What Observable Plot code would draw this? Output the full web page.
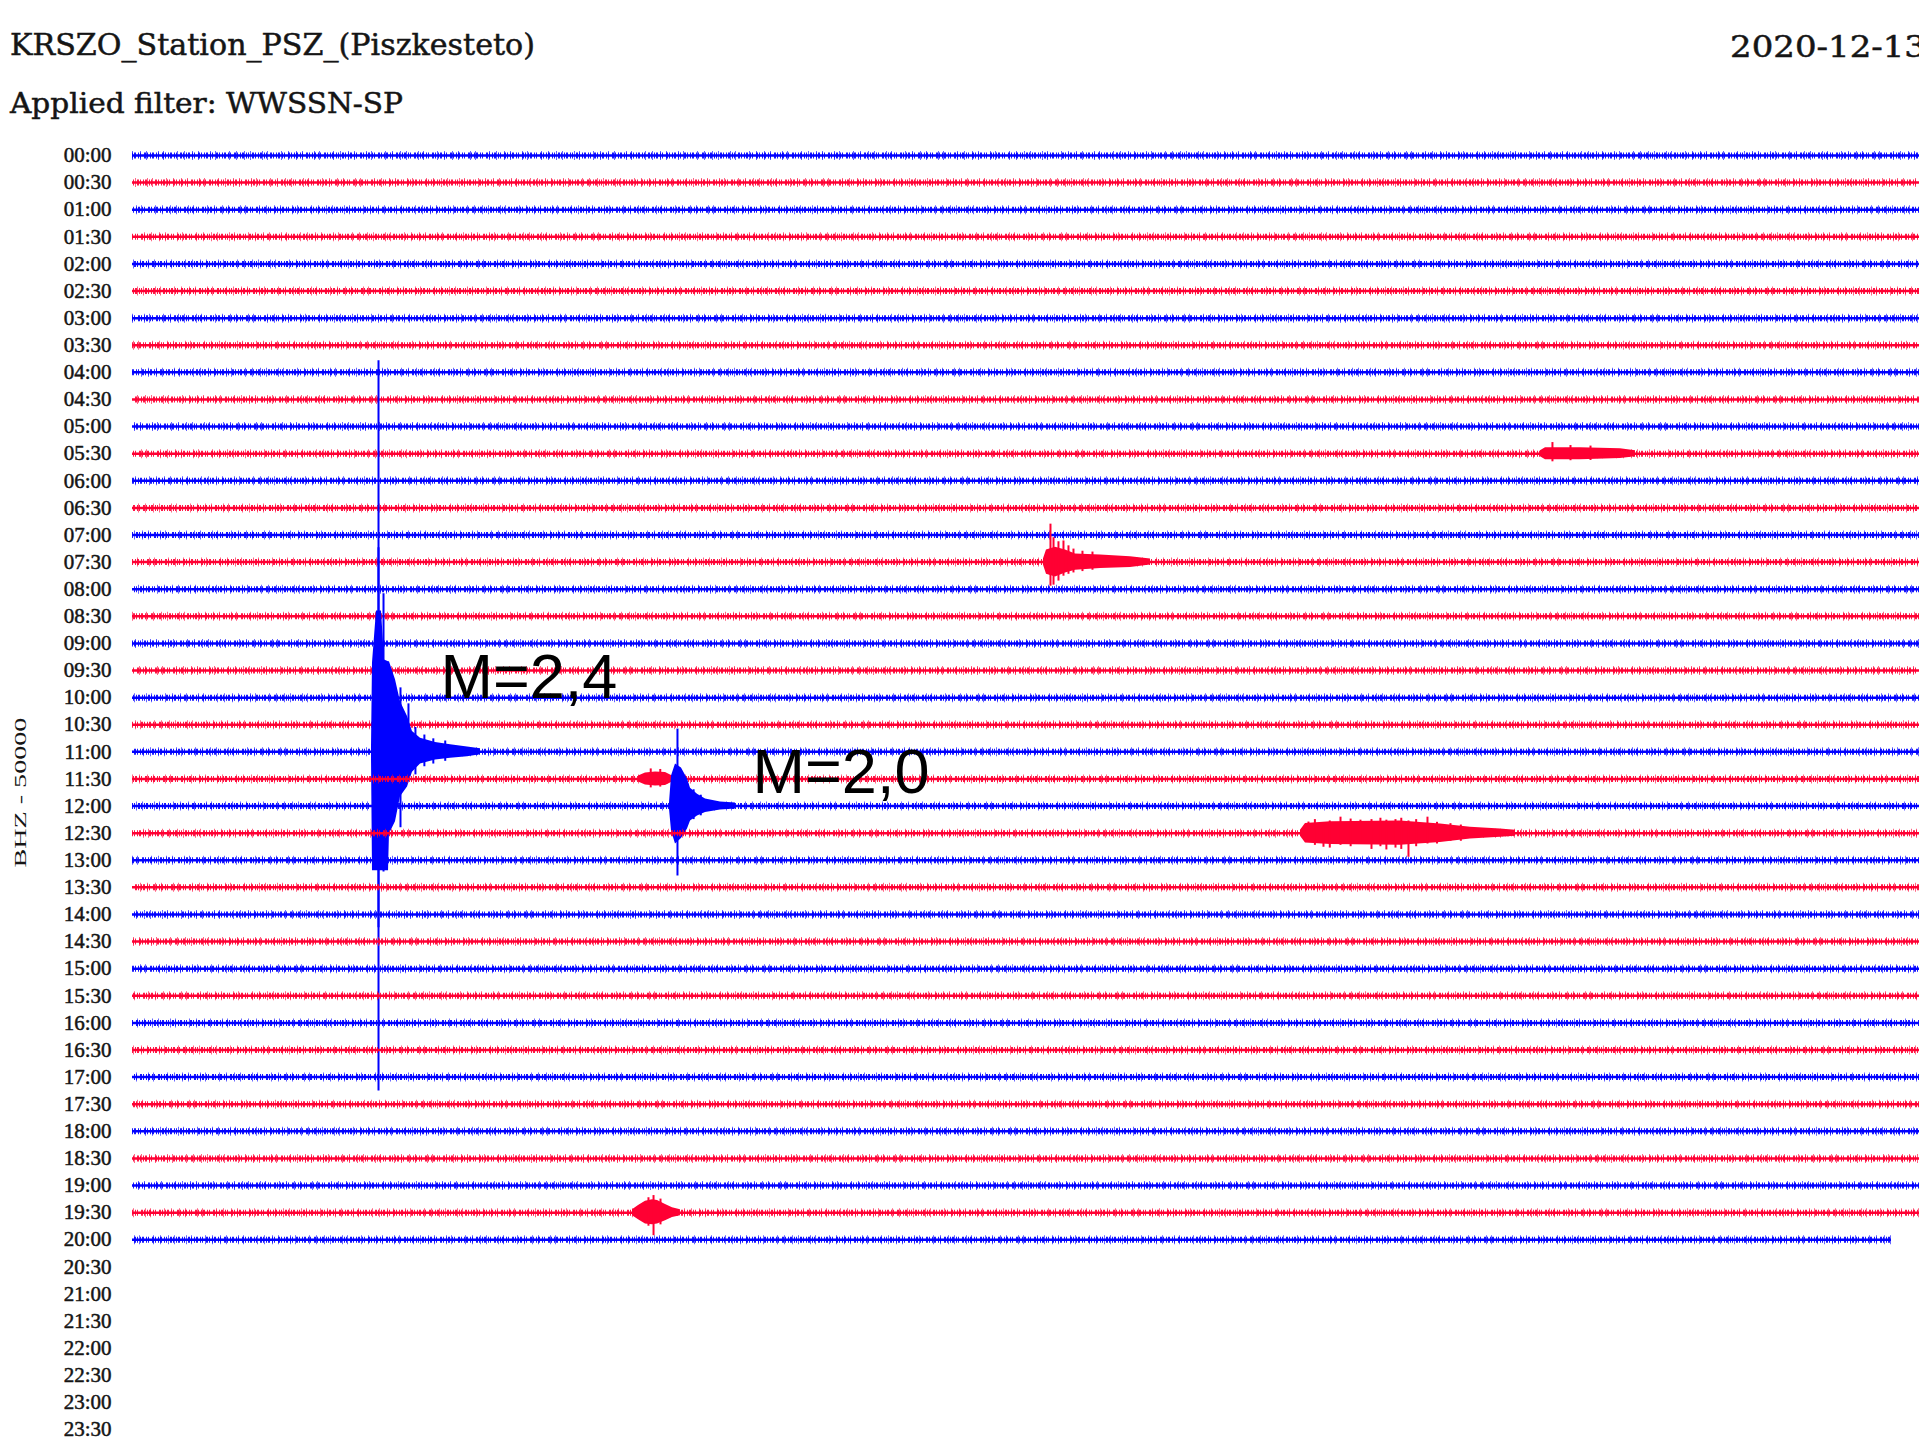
<!DOCTYPE html>
<html><head><meta charset="utf-8">
<script src="https://cdn.jsdelivr.net/npm/d3@7"></script>
<script src="https://cdn.jsdelivr.net/npm/@observablehq/plot@0.6"></script>
<style>
html,body{margin:0;padding:0;background:#fff;}
#wrap{position:relative;width:1919px;height:1450px;overflow:hidden;background:#fff;}
#header{position:absolute;left:0;top:0;}
#chart{position:absolute;left:0;top:125px;}
</style></head><body>
<div id="wrap">
<svg id="header" width="1919" height="125">
<g fill="#151515" stroke="#151515" stroke-width="0.5" font-family="DejaVu Serif">
<text x="10" y="55" font-size="30" textLength="525" lengthAdjust="spacingAndGlyphs">KRSZO_Station_PSZ_(Piszkesteto)</text>
<text x="10" y="113" font-size="28" textLength="393" lengthAdjust="spacingAndGlyphs">Applied filter: WWSSN-SP</text>
<text x="1730" y="57" font-size="30" textLength="196" lengthAdjust="spacingAndGlyphs">2020-12-13</text>
</g>
</svg>
<div id="chart"></div>
</div>
<script>
// ---- data (time in minutes within each 30-min line, amplitude in trace-spacing units) ----
const rowLabels = ["00:00","00:30","01:00","01:30","02:00","02:30","03:00","03:30","04:00","04:30",
  "05:00","05:30","06:00","06:30","07:00","07:30","08:00","08:30","09:00","09:30",
  "10:00","10:30","11:00","11:30","12:00","12:30","13:00","13:30","14:00","14:30",
  "15:00","15:30","16:00","16:30","17:00","17:30","18:00","18:30","19:00","19:30",
  "20:00","20:30","21:00","21:30","22:00","22:30","23:00","23:30"];
const tracedRows = 41;          // 00:00 .. 20:00 recorded
const lastRowEnd = 29.53;       // minutes recorded in the 20:00 line
const minutesPerLine = 30;
const yAxisLabel = "BHZ - 50000";

// M=2.4 event, line 11:00 (row 22): [minute, up, down]
const evM24Row = 22;
const evM24Env = [[4.012,0.11,0.11],[4.029,3.28,4.39],[4.096,5.20,4.39],[4.180,5.20,4.39],[4.231,3.39,4.39],
  [4.298,3.32,4.39],[4.314,3.32,3.03],[4.415,2.66,2.58],[4.499,1.85,1.66],[4.617,1.30,1.30],[4.700,0.75,0.75],
  [4.835,0.50,0.45],[5.087,0.34,0.30],[5.339,0.26,0.24],[5.624,0.18,0.18],[5.842,0.11,0.11]];
const evM24Peaks = [[4.130,14.43,12.51],[4.130,7.53,6.49],[4.214,5.83,4.43],[4.499,2.36,2.80],[4.633,1.77,0.77],
  [4.750,0.90,0.85],[4.900,0.62,0.55],[5.050,0.48,0.45],[5.250,0.40,0.35]];

// M=2.0 event, line 12:00 (row 24)
const evM20Row = 24;
const evM20Env = [[9.015,0.11,0.11],[9.049,1.11,0.92],[9.116,1.55,1.40],[9.216,1.40,1.20],[9.317,1.00,0.85],
  [9.368,0.66,0.55],[9.485,0.44,0.37],[9.620,0.26,0.24],[9.871,0.15,0.15],[10.123,0.11,0.11]];
const evM20Peaks = [[9.149,2.84,2.58],[9.317,0.81,0.55],[9.420,0.60,0.50],[9.540,0.40,0.36]];

// small burst before M=2.0, line 11:30 (row 23)
const ev1130Row = 23;
const ev1130Env = [[8.495,0.11,0.11],[8.612,0.22,0.22],[8.780,0.26,0.26],[8.948,0.24,0.24],[9.065,0.11,0.11]];
const ev1130Peaks = [[8.700,0.37,0.33],[8.860,0.35,0.30]];

// event on line 07:30 (row 15)
const ev0730Row = 15;
const ev0730Env = [[15.293,0.11,0.11],[15.344,0.45,0.45],[15.495,0.55,0.55],[15.663,0.45,0.40],[15.831,0.30,0.30],
  [16.251,0.26,0.24],[16.754,0.20,0.20],[17.090,0.11,0.11]];
const ev0730Peaks = [[15.411,1.40,0.89],[15.462,0.90,0.85],[15.545,0.75,0.70],[15.629,0.78,0.52],
  [15.713,0.60,0.45],[15.797,0.48,0.40],[15.948,0.40,0.35],[16.116,0.37,0.30]];

// event on line 05:30 (row 11)
const ev0530Row = 11;
const ev0530Env = [[23.637,0.11,0.11],[23.721,0.22,0.22],[24.309,0.22,0.22],[24.980,0.18,0.18],[25.232,0.11,0.11]];
const ev0530Peaks = [[23.838,0.41,0.30],[24.141,0.30,0.26],[24.477,0.28,0.25]];

// burst on line 12:30 (row 25)
const ev1230Row = 25;
const ev1230Env = [[19.608,0.11,0.11],[19.692,0.36,0.36],[20.112,0.42,0.42],[21.287,0.45,0.45],[21.958,0.34,0.34],
  [22.462,0.22,0.22],[22.965,0.15,0.15],[23.217,0.11,0.11]];
const ev1230Peaks = [[19.742,0.41,0.30],[19.850,0.50,0.45],[19.994,0.35,0.52],[20.100,0.45,0.55],[20.280,0.59,0.45],
  [20.450,0.52,0.50],[20.615,0.48,0.40],[20.800,0.50,0.60],[20.950,0.55,0.50],[21.050,0.48,0.62],
  [21.203,0.50,0.55],[21.300,0.55,0.60],[21.421,0.45,0.89],[21.550,0.50,0.50],[21.740,0.59,0.40],
  [21.900,0.40,0.40],[22.126,0.35,0.30],[22.300,0.30,0.30]];

// event on line 19:30 (row 39)
const ev1930Row = 39;
const ev1930Env = [[8.394,0.11,0.11],[8.495,0.26,0.26],[8.612,0.42,0.42],[8.730,0.48,0.45],[8.814,0.45,0.42],
  [8.948,0.30,0.30],[9.065,0.18,0.18],[9.199,0.11,0.11]];
const ev1930Peaks = [[8.747,0.63,0.85],[8.662,0.55,0.50],[8.864,0.50,0.45]];

// magnitude annotations
const annotText = ["M=2,4", "M=2,0"];
const annotMinute = [5.171, 10.41];
const annotRow = [19.26, 22.77];

// ---- build ----
const BLUE = "#0000ff", RED = "#ff0033";
const events = [
  {row: evM24Row, env: evM24Env, peaks: evM24Peaks},
  {row: evM20Row, env: evM20Env, peaks: evM20Peaks},
  {row: ev1130Row, env: ev1130Env, peaks: ev1130Peaks},
  {row: ev0730Row, env: ev0730Env, peaks: ev0730Peaks},
  {row: ev0530Row, env: ev0530Env, peaks: ev0530Peaks},
  {row: ev1230Row, env: ev1230Env, peaks: ev1230Peaks},
  {row: ev1930Row, env: ev1930Env, peaks: ev1930Peaks}
];

const marks = [];
for (let i = 0; i < tracedRows; i++) {
  const color = i % 2 ? RED : BLUE;
  const seg = [{row: i, x1: 0, x2: i === tracedRows - 1 ? lastRowEnd : minutesPerLine}];
  marks.push(Plot.ruleY(seg, {y: "row", x1: "x1", x2: "x2", stroke: color, strokeWidth: 2.5}));
  marks.push(Plot.ruleY(seg, {y: "row", x1: "x1", x2: "x2", stroke: color, strokeWidth: 6,
    strokeDasharray: "1 1 2 2 1 1 1 3 2 1 1 2", strokeDashoffset: i * 7, strokeOpacity: 0.9}));
  marks.push(Plot.ruleY(seg, {y: "row", x1: "x1", x2: "x2", stroke: color, strokeWidth: 9,
    strokeDasharray: "1 7 1 5 1 11 1 4 1 13 1 6", strokeDashoffset: i * 11, strokeOpacity: 0.6}));
  for (const ev of events.filter(e => e.row === i)) {
    marks.push(Plot.areaY(ev.env, {x: d => d[0], y1: d => ev.row - d[1], y2: d => ev.row + d[2],
      fill: color, curve: "linear"}));
    marks.push(Plot.ruleX(ev.peaks, {x: d => d[0], y1: d => ev.row - d[1], y2: d => ev.row + d[2],
      stroke: color, strokeWidth: 2}));
  }
}
marks.push(Plot.text(rowLabels, {x: 0, y: (d, i) => i, text: d => d, textAnchor: "end", dx: -21,
  fontSize: 21, fontFamily: "Liberation Serif", fill: "#151515", stroke: "#151515", strokeWidth: 0.5}));
marks.push(Plot.text([{row: 26.27, s: yAxisLabel}], {y: "row", text: "s", frameAnchor: "left", dx: -112,
  rotate: -90, textAnchor: "start", fontSize: 17, fontFamily: "Liberation Serif", fill: "#151515"}));
marks.push(Plot.text(annotText, {x: (d, i) => annotMinute[i], y: (d, i) => annotRow[i], text: d => d,
  textAnchor: "start", lineAnchor: "middle", fontSize: 63, fontFamily: "Liberation Sans", fill: "#000"}));

const chart = Plot.plot({
  width: 1919, height: 1325,
  marginTop: 30, marginBottom: 21, marginLeft: 132, marginRight: 0,
  x: {domain: [0, minutesPerLine], axis: null},
  y: {domain: [0, rowLabels.length - 1], reverse: true, axis: null},
  style: {background: "transparent", overflow: "visible"},
  marks
});
chart.querySelectorAll("text").forEach(t => {
  if (t.textContent === yAxisLabel) { t.setAttribute("textLength", 150); t.setAttribute("lengthAdjust", "spacingAndGlyphs"); }
});
document.getElementById("chart").appendChild(chart);
</script>
</body></html>
